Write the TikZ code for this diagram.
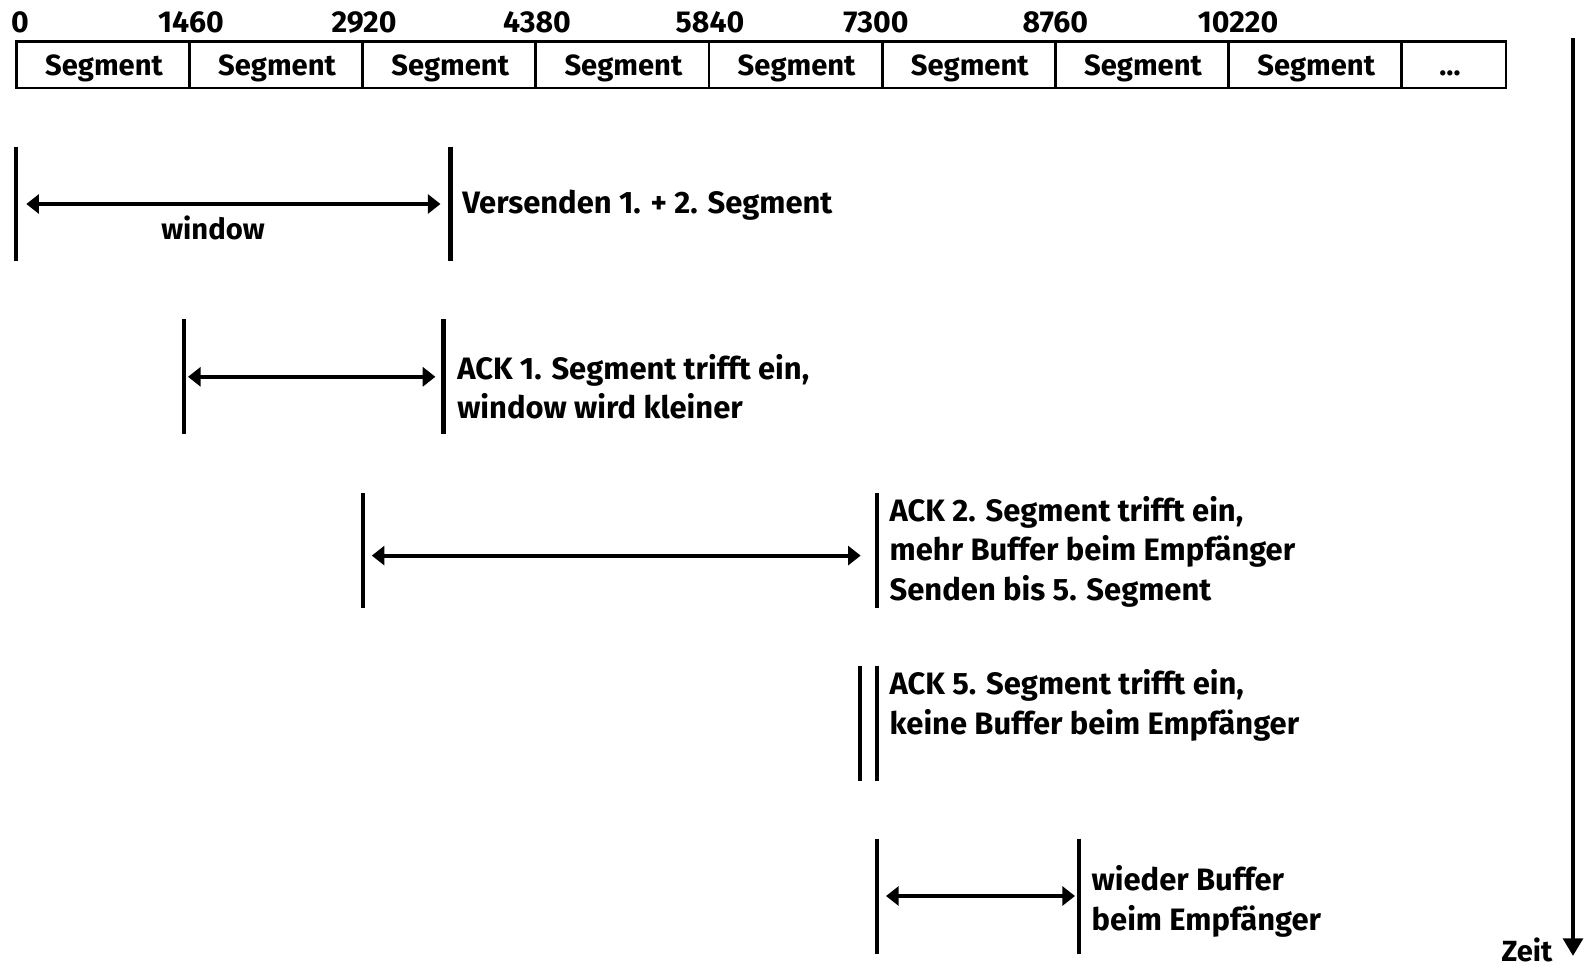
\documentclass[tikz,border=0pt]{standalone}
\usepackage{fontspec}
\setmainfont{Fira Sans}
\usetikzlibrary{arrows.meta}
\tikzset{
  bar/.style={line width=1.2pt},
  cell/.style={line width=0.8pt},
  win/.style={line width=1.1pt,{Triangle[length=3.6pt,width=5.4pt]}-{Triangle[length=3.6pt,width=5.4pt]}},
  seglabel/.style={font=\fontsize{8.3}{10}\selectfont\bfseries,inner sep=0pt},
  numlabel/.style={font=\fontsize{8.6}{10}\selectfont\bfseries,inner sep=0pt},
  msg/.style={anchor=west,align=left,inner sep=0pt,font=\fontsize{8.8}{11.2}\selectfont\bfseries},
}
\begin{document}
\begin{tikzpicture}[x=0.01cm,y=-0.01cm]
\useasboundingbox (0,0) rectangle (1584,972);

% Segmentleiste
\draw[cell] (16.2,41.4) rectangle (1506,87.9);
\draw[cell] (189.4,41.4) -- (189.4,87.9);
\draw[cell] (362.6,41.4) -- (362.6,87.9);
\draw[cell] (535.8,41.4) -- (535.8,87.9);
\draw[cell] (709,41.4) -- (709,87.9);
\draw[cell] (882.2,41.4) -- (882.2,87.9);
\draw[cell] (1055.4,41.4) -- (1055.4,87.9);
\draw[cell] (1228.6,41.4) -- (1228.6,87.9);
\draw[cell] (1401.8,41.4) -- (1401.8,87.9);

\node[seglabel] (seg1) at (104,68.5) {Segment};
\node[seglabel] (seg2) at (277,68.5) {Segment};
\node[seglabel] (seg3) at (450.2,68.5) {Segment};
\node[seglabel] (seg4) at (623.4,68.5) {Segment};
\node[seglabel] (seg5) at (796.6,68.5) {Segment};
\node[seglabel] (seg6) at (969.8,68.5) {Segment};
\node[seglabel] (seg7) at (1143,68.5) {Segment};
\node[seglabel] (seg8) at (1316.2,68.5) {Segment};
\node[seglabel] (seg9) at (1450,73) {\dots};

% Byte-Positionen
\node[numlabel] (n0) at (20,22.4) {0};
\node[numlabel] (n1) at (191,22.4) {1460};
\node[numlabel] (n2) at (364,22.4) {2920};
\node[numlabel] (n3) at (537,22.4) {4380};
\node[numlabel] (n4) at (710,22.4) {5840};
\node[numlabel] (n5) at (876,22.4) {7300};
\node[numlabel] (n6) at (1055.4,22.4) {8760};
\node[numlabel] (n7) at (1238,22.4) {10220};

% Versenden
\draw[bar] (16.2,146.5) -- (16.2,260.6);
\draw[bar] (450.5,146.5) -- (450.5,260.6);
\coordinate (w1l) at (26.3,204);
\coordinate (w1r) at (440.5,204);
\draw[win] (w1l) -- (w1r);
\node[seglabel] (win) at (213,228) {window};
\node[msg] (t1) at (461.6,205) {Versenden 1. + 2. Segment};

% ACK 1
\draw[bar] (183.9,319) -- (183.9,434.4);
\draw[bar] (443.5,319) -- (443.5,434.4);
\coordinate (w2l) at (188,376.8);
\coordinate (w2r) at (435.4,376.8);
\draw[win] (w2l) -- (w2r);
\node[msg] (t2) at (456.6,386.9) {ACK 1. Segment trifft ein,\\window wird kleiner};

% ACK 2
\draw[bar] (362.7,493) -- (362.7,608.1);
\draw[bar] (876.9,493) -- (876.9,608.1);
\coordinate (w3l) at (371.8,555.6);
\coordinate (w3r) at (860.7,555.6);
\draw[win] (w3l) -- (w3r);
\node[msg] (t3) at (889,551.6) {ACK 2. Segment trifft ein,\\mehr Buffer beim Empfänger\\Senden bis 5. Segment};

% ACK 5
\draw[bar] (859.7,665.7) -- (859.7,781);
\draw[bar] (876.9,665.7) -- (876.9,781);
\node[msg] (t4) at (889,705.5) {ACK 5. Segment trifft ein,\\keine Buffer beim Empfänger};

% wieder Buffer
\draw[bar] (876.9,838.5) -- (876.9,953.6);
\draw[bar] (1078.9,838.5) -- (1078.9,953.6);
\coordinate (w5l) at (886,896);
\coordinate (w5r) at (1075,896);
\draw[win] (w5l) -- (w5r);
\node[msg] (t5) at (1091,901.5) {wieder Buffer\\beim Empfänger};

% Zeitachse
\coordinate (z0) at (1573,38.4);
\coordinate (z1) at (1573,956);
\draw[line width=1.4pt,-{Triangle[length=5pt,width=5.5pt]}] (z0) -- (z1);
\node[seglabel] (zeit) at (1527,950) {Zeit};
\end{tikzpicture}
\end{document}
